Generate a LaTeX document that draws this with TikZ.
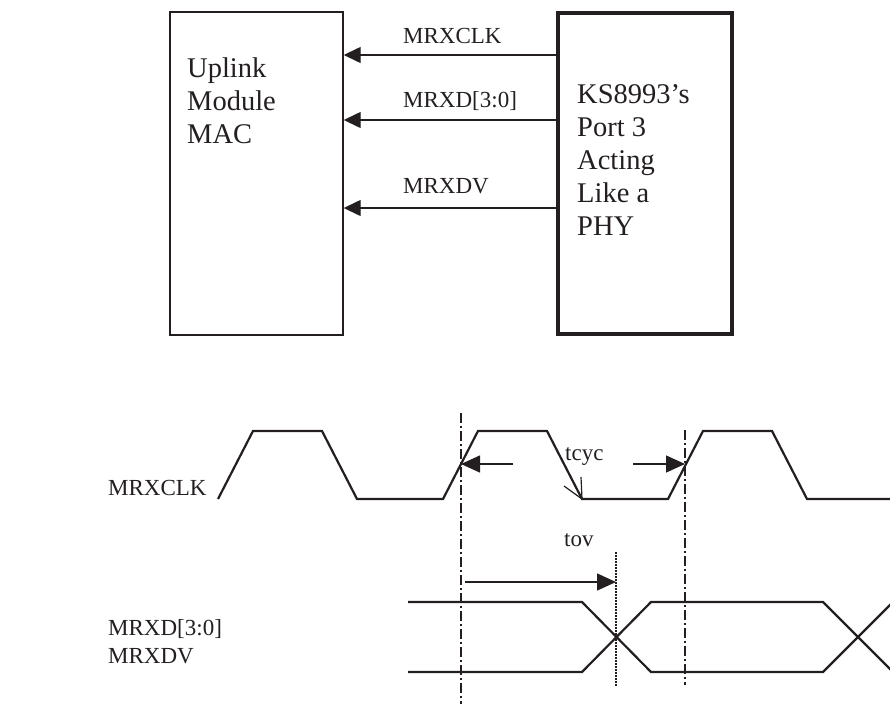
\documentclass[tikz,border=0pt]{standalone}
\usepackage{fontspec}
\setmainfont{Liberation Serif}
\usepackage{tikz}
\usetikzlibrary{arrows.meta}
\definecolor{ink}{HTML}{231F20}

\begin{document}
\begin{tikzpicture}[x=1pt,y=-1pt,ink,
    box/.style={draw,line width=1.4pt,minimum width=173pt,minimum height=323pt,inner sep=0pt},
    thickbox/.style={draw,line width=4.5pt,minimum width=174pt,minimum height=321pt,inner sep=0pt},
    boxtext/.style={inner sep=0pt,align=left,font=\fontsize{28.5}{33}\selectfont},
    sig/.style={inner sep=0pt,font=\fontsize{23}{28}\selectfont},
    sigarrow/.style={line width=1.4pt,-{Triangle[length=17pt,width=16pt]}},
    timarrow/.style={line width=1.4pt,-{Triangle[length=19pt,width=17pt]}},
    wave/.style={line width=2.2pt,line join=miter},
    edgeline/.style={line width=1.4pt,dash pattern=on 10pt off 3pt on 2pt off 3pt},
    validline/.style={line width=1.2pt,dash pattern=on 1.5pt off 1.5pt}]
  \useasboundingbox (0,0) rectangle (890,704);

  % block diagram
  \node[box] (mac) at (256.5,173.5) {};
  \node[thickbox] (phy) at (645,173.5) {};
  \node[boxtext,anchor=north west] (mactext) at (187,57.5) {Uplink\\Module\\MAC};
  \node[boxtext,anchor=north west] (phytext) at (577,84.5) {KS8993’s\\Port 3\\Acting\\Like a\\PHY};

  \draw[sigarrow] (phy.west |- 0,55) -- (mac.east |- 0,55);
  \draw[sigarrow] (phy.west |- 0,120) -- (mac.east |- 0,120);
  \draw[sigarrow] (phy.west |- 0,208) -- (mac.east |- 0,208);
  \node[sig,anchor=base west] (clklabel) at (403,43) {MRXCLK};
  \node[sig,anchor=base west] (rxdlabel) at (403,107) {MRXD[3:0]};
  \node[sig,anchor=base west] (dvlabel) at (403,193) {MRXDV};

  % timing diagram
  \node[sig,anchor=base west] (clkname) at (108,495) {MRXCLK};
  \node[sig,anchor=north west,align=left] (busname) at (108,619) {MRXD[3:0]\\MRXDV};

  \draw[wave] (218,499)
    \foreach \i in {0,1,2} { -- ++(35,-68) -- ++(69,0) -- ++(35,68) -- ++(86,0) };
  \draw[line width=1.2pt] (581,477) -- (582,499) -- (564,486);

  \draw[wave] (408,602) -- (582,602) -- (651,672) -- (823,672) -- (893,602);
  \draw[wave] (408,672) -- (582,672) -- (651,602) -- (823,602) -- (893,672);

  \coordinate (edge1) at (461,464);
  \coordinate (edge2) at (685,464);
  \coordinate (valid) at (616,582);
  \draw[edgeline] (461,413) -- (461,704);
  \draw[edgeline] (685,430) -- (685,685);
  \draw[validline] (616,552) -- (616,687);

  \draw[timarrow] (513,464) -- (edge1);
  \draw[timarrow] (633,464) -- (edge2);
  \node[sig,anchor=base west] (tcyc) at (565,460) {tcyc};
  \draw[timarrow] (465,582) -- (valid);
  \node[sig,anchor=base west] (tov) at (564,546) {tov};
\end{tikzpicture}
\end{document}
